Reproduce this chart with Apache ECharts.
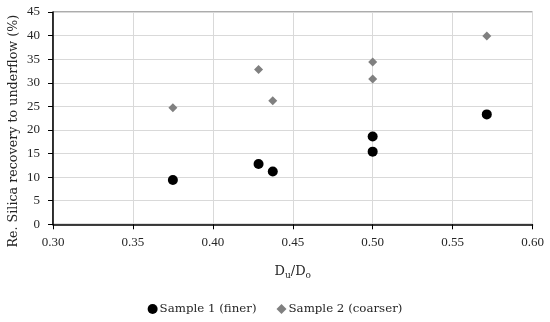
<!DOCTYPE html>
<html><head><meta charset="utf-8">
<script src="https://cdn.jsdelivr.net/npm/echarts@6/dist/echarts.min.js"></script>
<style>html,body{margin:0;padding:0;background:#fff}#c{width:550px;height:322px}</style>
</head><body><div id="c"></div>
<script>
const seriesNames = ['Sample 1 (finer)', 'Sample 2 (coarser)'];
const ratio1 = [0.375, 0.4286, 0.4375, 0.5, 0.5, 0.5714];
const recovery1 = [9.4, 12.8, 11.2, 18.6, 15.4, 23.3];
const ratio2 = [0.375, 0.4286, 0.4375, 0.5, 0.5, 0.5714];
const recovery2 = [24.7, 32.8, 26.2, 34.4, 30.8, 39.9];
const yAxisTitle = 'Re. Silica recovery to underflow (%)';

const FONT = 'Liberation Serif';
const FONT2 = 'DejaVu Serif';
const TXT = '#262626';
const chart = echarts.init(document.getElementById('c'));
chart.setOption({
  animation: false,
  textStyle: {fontFamily: FONT},
  grid: {left: 53, right: 17.5, top: 12, bottom: 97.7, show: true, borderColor: '#595959', borderWidth: 1,
         containLabel: false, outerBoundsMode: 'none'},
  xAxis: {
    type: 'value', min: 0.30, max: 0.60, interval: 0.05,
    axisLine: {onZero: false, lineStyle: {color: '#000', width: 1.5}},
    axisTick: {show: true, length: 5, lineStyle: {color: '#000'}},
    axisLabel: {color: TXT, fontSize: 13, fontFamily: FONT, margin: 12, formatter: v => v.toFixed(2)},
    splitLine: {lineStyle: {color: '#d9d9d9'}},
    name: '{m|D}{s|u}{m|/D}{s|o}', nameLocation: 'middle', nameGap: 39, nameMoveOverlap: false,
    nameTextStyle: {rich: {m: {fontSize: 13, fontFamily: FONT2, color: TXT}, s: {fontSize: 9, fontFamily: FONT2, color: TXT, verticalAlign: 'bottom', padding: [8,0,0,0]}}}
  },
  yAxis: {
    type: 'value', min: 0, max: 45, interval: 5,
    axisLine: {show: true, onZero: false, lineStyle: {color: '#000', width: 1.5}},
    axisTick: {show: true, length: 5, lineStyle: {color: '#000'}},
    axisLabel: {color: TXT, fontSize: 13, fontFamily: FONT, margin: 13},
    splitLine: {lineStyle: {color: '#d9d9d9'}},
    name: yAxisTitle, nameLocation: 'middle', nameGap: 33, nameMoveOverlap: false,
    nameTextStyle: {fontSize: 12.7, fontFamily: FONT2, color: TXT, padding: [0, 26, 0, 0]}
  },
  legend: {
    top: 298, left: 'center', itemGap: 20, itemWidth: 10, itemHeight: 10,
    textStyle: {fontSize: 11.8, fontFamily: FONT2, color: TXT, padding: [0,0,0,-3]},
    data: [{name: seriesNames[0], icon: 'circle'}, {name: seriesNames[1], icon: 'diamond'}]
  },
  series: [
    {name: seriesNames[0], type: 'scatter', symbol: 'circle', symbolSize: 10,
     itemStyle: {color: '#000', opacity: 1}, data: ratio1.map((x, i) => [x, recovery1[i]])},
    {name: seriesNames[1], type: 'scatter', symbol: 'diamond', symbolSize: 9,
     itemStyle: {color: '#808080', opacity: 1}, data: ratio2.map((x, i) => [x, recovery2[i]])}
  ]
});
</script></body></html>
